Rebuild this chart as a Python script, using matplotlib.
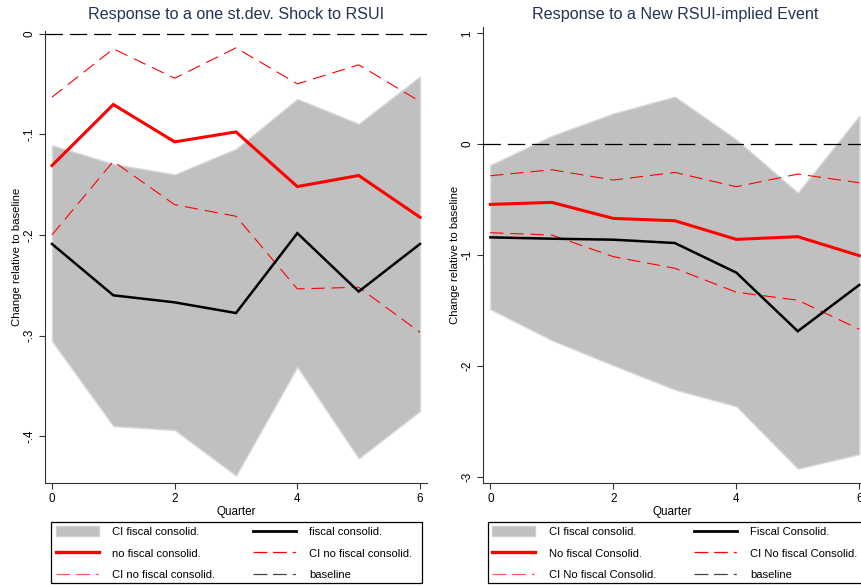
import matplotlib
matplotlib.use("Agg")
import matplotlib.pyplot as plt
from matplotlib.lines import Line2D
from matplotlib.patches import Patch, Rectangle

plt.rcParams['font.family'] = ['Liberation Sans', 'DejaVu Sans']
plt.rcParams['lines.scale_dashes'] = False

quarters = [0, 1, 2, 3, 4, 5, 6]

# Left panel: Response to a one st.dev. Shock to RSUI
l_ci_fc_upper = [-0.111, -0.1295, -0.140, -0.1146, -0.065, -0.0897, -0.0427]
l_ci_fc_lower = [-0.3054, -0.3898, -0.3937, -0.439, -0.331, -0.4219, -0.375]
l_fc = [-0.209, -0.260, -0.267, -0.2776, -0.1983, -0.2563, -0.209]
l_nofc = [-0.1311, -0.0705, -0.1076, -0.0977, -0.152, -0.141, -0.1825]
l_ci_nofc_upper = [-0.0632, -0.0152, -0.0444, -0.0142, -0.050, -0.0311, -0.0675]
l_ci_nofc_lower = [-0.200, -0.127, -0.170, -0.1815, -0.2536, -0.252, -0.2967]
l_yticks = [0, -0.1, -0.2, -0.3, -0.4]
l_yticklabels = ['0', '-.1', '-.2', '-.3', '-.4']
l_labels = ['CI fiscal consolid.', 'fiscal consolid.', 'no fiscal consolid.',
            'CI no fiscal consolid.', 'CI no fiscal consolid.', 'baseline']

# Right panel: Response to a New RSUI-implied Event
r_ci_fc_upper = [-0.189, 0.075, 0.276, 0.429, 0.042, -0.438, 0.255]
r_ci_fc_lower = [-1.489, -1.769, -1.995, -2.214, -2.365, -2.927, -2.798]
r_fc = [-0.841, -0.853, -0.862, -0.892, -1.159, -1.688, -1.270]
r_nofc = [-0.5435, -0.5255, -0.670, -0.691, -0.859, -0.835, -1.006]
r_ci_nofc_upper = [-0.285, -0.231, -0.324, -0.255, -0.384, -0.270, -0.348]
r_ci_nofc_lower = [-0.799, -0.820, -1.015, -1.120, -1.336, -1.408, -1.670]
r_yticks = [1, 0, -1, -2, -3]
r_yticklabels = ['1', '0', '-1', '-2', '-3']
r_labels = ['CI fiscal consolid.', 'Fiscal Consolid.', 'No fiscal Consolid.',
            'CI No fiscal Consolid.', 'CI No fiscal Consolid.', 'baseline']

xticks = [0, 2, 4, 6]

W, H = 862, 587
fig = plt.figure(figsize=(W / 100, H / 100), dpi=100)

GREY = '#c0c0c0'
RED = '#ff0000'
TITLE_C = '#223356'
SPINE_C = '#333333'
DASH = (0, (9.5, 5))
BASE_DASH = (0, (12.5, 5))
LEG_DASH = (0, (10, 4, 10, 4.3, 2.2, 10))


def panel(rect, title, title_x, up, lo, fc, nofc, cu, cl, yt, ytl, ylim, xlim):
    ax = fig.add_axes(rect)
    ax.fill_between(quarters, lo, up, facecolor=GREY, edgecolor='#d8d8d8',
                    linewidth=1.0, zorder=1)
    ax.plot(quarters, cu, color=RED, lw=0.8, linestyle=DASH, zorder=3)
    ax.plot(quarters, cl, color=RED, lw=0.8, linestyle=DASH, zorder=3)
    ax.plot(quarters, nofc, color=RED, lw=2.2, zorder=4, solid_joinstyle='miter')
    ax.plot(quarters, fc, color='black', lw=1.8, zorder=4, solid_joinstyle='miter')
    ax.axhline(0, color='black', lw=0.9, linestyle=BASE_DASH, zorder=5)
    ax.set_xlim(*xlim)
    ax.set_ylim(*ylim)
    ax.set_xticks(xticks)
    ax.set_xticklabels([str(t) for t in xticks], fontsize=8.4)
    ax.set_yticks(yt)
    ax.set_yticklabels(ytl, fontsize=8.4, rotation=90, va='center')
    for s in ['top', 'right']:
        ax.spines[s].set_visible(False)
    for s in ['left', 'bottom']:
        ax.spines[s].set_color(SPINE_C)
        ax.spines[s].set_linewidth(0.8)
    ax.tick_params(direction='out', length=4, width=0.8, color=SPINE_C, pad=3)
    ax.set_xlabel('Quarter', fontsize=8.4, labelpad=1)
    ax.set_ylabel('Change relative to baseline', fontsize=8.2, labelpad=1)
    fig.text(title_x / W, 1 - 14 / H, title, fontsize=11.6, color=TITLE_C,
             ha='center', va='center')
    ax.patch.set_alpha(0)
    return ax


axL = panel([45 / W, 1 - 483 / H, (427 - 45) / W, (483 - 31) / H],
            'Response to a one st.dev. Shock to RSUI', 235.8,
            l_ci_fc_upper, l_ci_fc_lower, l_fc, l_nofc, l_ci_nofc_upper, l_ci_nofc_lower,
            l_yticks, l_yticklabels, (-0.4464, 0.0025), (-0.114, 6.114))
axR = panel([483.3 / W, 1 - 483.3 / H, (W - 483.3) / W, (483.3 - 27) / H],
            'Response to a New RSUI-implied Event', 674.8,
            r_ci_fc_upper, r_ci_fc_lower, r_fc, r_nofc, r_ci_nofc_upper, r_ci_nofc_lower,
            r_yticks, r_yticklabels, (-3.06, 1.057), (-0.114, 6.044))


def legend(labels, x0, x1):
    y_top, y_bot = 521.7, 583
    fig.add_artist(Rectangle((x0 / W, 1 - y_bot / H), (x1 - x0) / W, (y_bot - y_top) / H,
                             transform=fig.transFigure, facecolor='white',
                             edgecolor='black', linewidth=0.9, zorder=1))
    h_ci = Patch(facecolor=GREY, edgecolor='#d0d0d0', linewidth=1.0)
    h_fc = Line2D([], [], color='black', lw=2.0)
    h_nofc = Line2D([], [], color=RED, lw=2.4)
    h_cu = Line2D([], [], color=RED, lw=0.9, linestyle=LEG_DASH)
    h_cl = Line2D([], [], color='#ff5a5a', lw=0.9, linestyle=LEG_DASH)
    h_base = Line2D([], [], color='#444444', lw=0.9, linestyle=LEG_DASH)
    handles = [h_ci, h_nofc, h_cl, h_fc, h_cu, h_base]
    labs = [labels[0], labels[2], labels[4], labels[1], labels[3], labels[5]]
    leg = fig.legend(handles, labs, ncol=2, loc='upper left',
                     bbox_to_anchor=(x0 / W, 1 - y_top / H),
                     fontsize=8.15, frameon=False,
                     handlelength=3.8, handleheight=1.0,
                     handletextpad=1.2, labelspacing=0.93, borderpad=0.4,
                     borderaxespad=0.0, columnspacing=3.3)
    leg.set_zorder(2)
    return leg


legend(l_labels, 51, 422)
legend(r_labels, 487.7, 880)

fig.savefig('out.png', dpi=100)
